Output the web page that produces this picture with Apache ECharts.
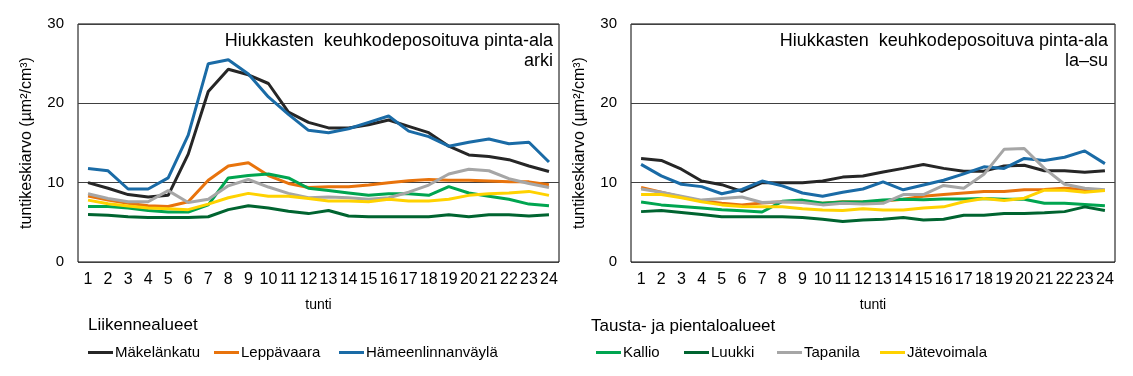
<!DOCTYPE html>
<html>
<head>
<meta charset="utf-8">
<script src="https://cdn.jsdelivr.net/npm/echarts@6/dist/echarts.min.js"></script>
<style>
  html, body { margin: 0; padding: 0; background: #fff; }
  #chart { width: 1133px; height: 376px; }
</style>
</head>
<body>
<div id="chart"></div>
<script>
// tunnit 1..24
const hours = ['1', '2', '3', '4', '5', '6', '7', '8', '9', '10', '11', '12',
  '13', '14', '15', '16', '17', '18', '19', '20', '21', '22', '23', '24']

// arki
const makelankatuArki = [10.0, 9.3, 8.5, 8.2, 8.4, 13.6, 21.5, 24.3, 23.6, 22.5, 18.9, 17.6, 16.9, 16.9, 17.3, 17.9, 17.1, 16.3, 14.6, 13.5, 13.3, 12.9, 12.1, 11.4]
const leppavaaraArki = [8.3, 7.8, 7.4, 7.1, 7.0, 7.6, 10.3, 12.1, 12.5, 10.9, 9.9, 9.4, 9.5, 9.5, 9.7, 10.0, 10.25, 10.4, 10.3, 10.3, 10.2, 10.1, 10.1, 9.75]
const hameenlinnanvaylaArki = [11.8, 11.5, 9.2, 9.2, 10.6, 16.0, 25.0, 25.5, 23.7, 20.8, 18.6, 16.6, 16.3, 16.8, 17.6, 18.4, 16.5, 15.8, 14.6, 15.1, 15.5, 14.9, 15.1, 12.6]
const kallioArki = [7.0, 7.0, 6.8, 6.5, 6.3, 6.3, 7.2, 10.6, 10.9, 11.1, 10.6, 9.3, 9.0, 8.7, 8.4, 8.6, 8.6, 8.4, 9.5, 8.7, 8.3, 7.9, 7.3, 7.1]
const luukkiArki = [6.0, 5.9, 5.7, 5.6, 5.6, 5.6, 5.7, 6.6, 7.1, 6.8, 6.4, 6.1, 6.5, 5.8, 5.7, 5.7, 5.7, 5.7, 5.95, 5.7, 5.95, 5.95, 5.8, 5.95]
const tapanilaArki = [8.6, 8.0, 7.6, 7.6, 9.0, 7.5, 7.9, 9.6, 10.4, 9.45, 8.65, 8.1, 8.2, 8.1, 7.9, 8.1, 8.8, 9.7, 11.1, 11.7, 11.5, 10.5, 9.9, 9.4]
const jatevoimalaArki = [7.8, 7.35, 7.05, 6.8, 6.7, 6.6, 7.3, 8.1, 8.65, 8.3, 8.3, 8.0, 7.7, 7.7, 7.6, 7.9, 7.7, 7.7, 7.9, 8.4, 8.6, 8.7, 8.9, 8.4]

// la–su
const makelankatuLaSu = [13.05, 12.8, 11.7, 10.2, 9.75, 8.9, 10.0, 10.0, 10.0, 10.2, 10.7, 10.85, 11.35, 11.8, 12.3, 11.8, 11.45, 11.45, 12.1, 12.2, 11.5, 11.5, 11.3, 11.5]
const leppavaaraLaSu = [9.4, 8.8, 8.2, 7.7, 7.4, 7.2, 7.45, 7.6, 7.6, 7.4, 7.6, 7.55, 7.7, 7.9, 8.3, 8.5, 8.7, 8.9, 8.9, 9.1, 9.15, 9.3, 9.15, 9.0]
const hameenlinnanvaylaLaSu = [12.3, 10.85, 9.8, 9.5, 8.6, 9.15, 10.2, 9.6, 8.7, 8.3, 8.8, 9.2, 10.1, 9.1, 9.7, 10.3, 11.1, 12.0, 11.8, 13.05, 12.8, 13.2, 14.0, 12.4]
const kallioLaSu = [7.55, 7.2, 7.0, 6.8, 6.6, 6.45, 6.3, 7.65, 7.8, 7.4, 7.55, 7.6, 7.8, 7.9, 7.85, 7.95, 7.95, 8.0, 7.9, 7.9, 7.4, 7.4, 7.25, 7.1]
const luukkiLaSu = [6.35, 6.5, 6.25, 6.0, 5.7, 5.7, 5.7, 5.7, 5.6, 5.4, 5.1, 5.3, 5.4, 5.6, 5.3, 5.4, 5.9, 5.9, 6.1, 6.1, 6.2, 6.35, 6.95, 6.5]
const tapanilaLaSu = [9.2, 8.8, 8.3, 7.8, 8.0, 8.2, 7.5, 7.6, 7.5, 7.2, 7.4, 7.3, 7.4, 8.5, 8.5, 9.65, 9.3, 11.05, 14.2, 14.3, 11.8, 9.8, 9.3, 9.1]
const jatevoimalaLaSu = [8.5, 8.5, 8.1, 7.6, 7.2, 7.0, 6.95, 6.95, 6.7, 6.55, 6.5, 6.7, 6.55, 6.55, 6.8, 6.95, 7.6, 8.0, 7.75, 8.05, 9.05, 9.05, 8.8, 9.0]

const yTicks = [0, 10, 20, 30]

// legendX = selitteen viivan vasen reuna
const stations = [
  { name: 'Mäkelänkatu', color: '#262626', arki: makelankatuArki, lasu: makelankatuLaSu, legendX: 88 },
  { name: 'Leppävaara', color: '#E8730C', arki: leppavaaraArki, lasu: leppavaaraLaSu, legendX: 214 },
  { name: 'Hämeenlinnanväylä', color: '#1A6BA6', arki: hameenlinnanvaylaArki, lasu: hameenlinnanvaylaLaSu, legendX: 339 },
  { name: 'Kallio', color: '#00A550', arki: kallioArki, lasu: kallioLaSu, legendX: 596 },
  { name: 'Luukki', color: '#006430', arki: luukkiArki, lasu: luukkiLaSu, legendX: 684 },
  { name: 'Tapanila', color: '#A6A6A6', arki: tapanilaArki, lasu: tapanilaLaSu, legendX: 777 },
  { name: 'Jätevoimala', color: '#FFD200', arki: jatevoimalaArki, lasu: jatevoimalaLaSu, legendX: 880 }
]

const font = 'Liberation Sans, Arial, sans-serif'

function xAxisFor (idx) {
  return {
    type: 'category',
    gridIndex: idx,
    data: hours,
    boundaryGap: true,
    name: 'tunti',
    nameLocation: 'middle',
    nameGap: 36,
    nameTextStyle: { color: '#000', fontSize: 14, fontFamily: font },
    axisLine: { show: false },
    axisTick: { show: false },
    axisLabel: { interval: 0, color: '#000', fontSize: 16, fontFamily: font, margin: 10 }
  }
}

function yAxisFor (idx) {
  return {
    type: 'value',
    gridIndex: idx,
    min: yTicks[0],
    max: yTicks[yTicks.length - 1],
    interval: 10,
    name: 'tuntikeskiarvo (µm²/cm³)',
    nameLocation: 'middle',
    nameGap: 43,
    nameTextStyle: { color: '#000', fontSize: 16, fontFamily: font },
    axisLine: { show: false },
    axisTick: { show: false },
    axisLabel: { color: '#000', fontSize: 15, fontFamily: font, margin: 14 },
    splitLine: { lineStyle: { color: '#404040', width: 1 } }
  }
}

const series = []
stations.forEach(function (s) {
  ;[s.arki, s.lasu].forEach(function (d, i) {
    series.push({
      name: s.name,
      type: 'line',
      xAxisIndex: i,
      yAxisIndex: i,
      data: d,
      symbol: 'none',
      lineStyle: { color: s.color, width: 3 },
      itemStyle: { color: s.color },
      z: 3
    })
  })
})

// yksi selite per asema, jotta sijainnit osuvat kohdalleen
const legends = stations.map(function (s) {
  return {
    left: s.legendX - 5, // legendin oma padding 5
    top: 340,
    icon: 'rect',
    itemWidth: 25,
    itemHeight: 3,
    textStyle: { color: '#000', fontSize: 15, fontFamily: font, padding: [0, 0, 0, -3] },
    data: [s.name]
  }
})

const option = {
  backgroundColor: '#fff',
  animation: false,
  grid: [
    { left: 78, top: 24, width: 481, height: 238, show: true, borderColor: '#000', borderWidth: 1, backgroundColor: 'transparent' },
    { left: 631, top: 24, width: 484, height: 238, show: true, borderColor: '#000', borderWidth: 1, backgroundColor: 'transparent' }
  ],
  xAxis: [xAxisFor(0), xAxisFor(1)],
  yAxis: [yAxisFor(0), yAxisFor(1)],
  legend: legends,
  graphic: [
    { type: 'text', right: 1133 - 553, top: 32, style: { text: 'Hiukkasten  keuhkodeposoituva pinta-ala', font: '18px ' + font, fill: '#000' } },
    { type: 'text', right: 1133 - 553, top: 52, style: { text: 'arki', font: '18px ' + font, fill: '#000' } },
    { type: 'text', right: 1133 - 1108, top: 32, style: { text: 'Hiukkasten  keuhkodeposoituva pinta-ala', font: '18px ' + font, fill: '#000' } },
    { type: 'text', right: 1133 - 1108, top: 52, style: { text: 'la–su', font: '18px ' + font, fill: '#000' } },
    { type: 'text', left: 88, top: 317, style: { text: 'Liikennealueet', font: '17px ' + font, fill: '#000' } },
    { type: 'text', left: 591, top: 318, style: { text: 'Tausta- ja pientaloalueet', font: '17px ' + font, fill: '#000' } }
  ],
  series: series
}

const chart = echarts.init(document.getElementById('chart'))
chart.setOption(option)
window.addEventListener('resize', function () { chart.resize() })
</script>
</body>
</html>
